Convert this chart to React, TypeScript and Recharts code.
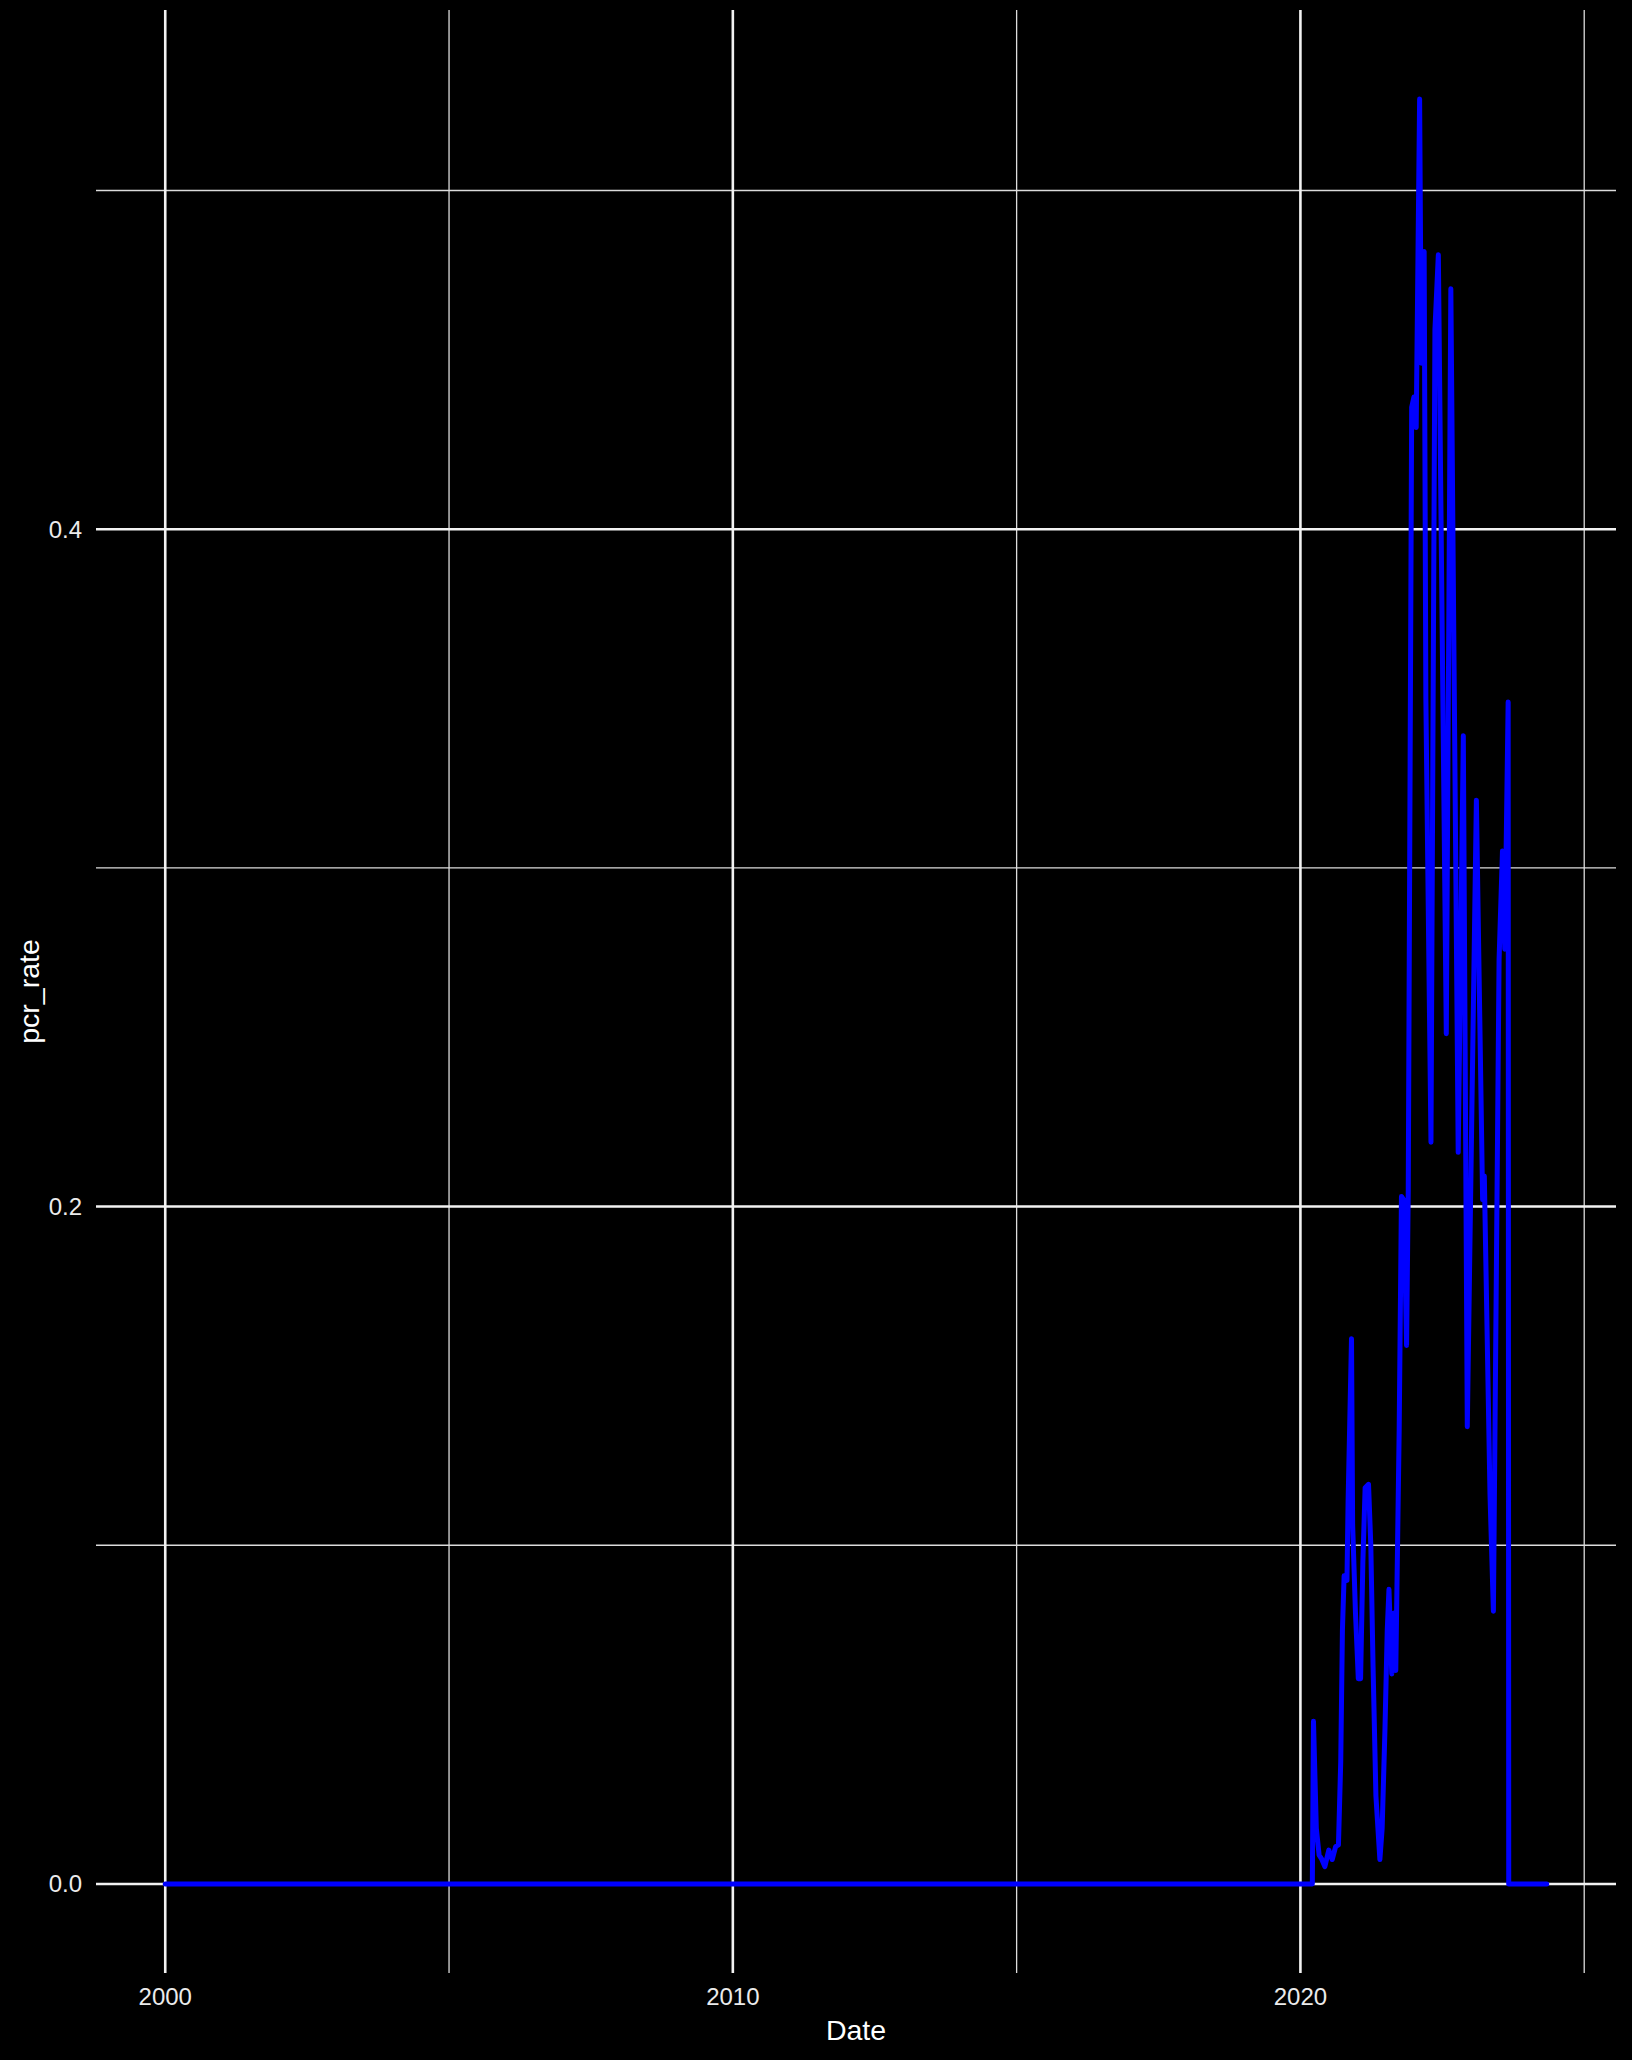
import React from 'react';
import { LineChart, Line, XAxis, YAxis, ReferenceLine } from 'recharts';

// decimal year of each observation
const years = [
  2000.0, 2020.21, 2020.23, 2020.28, 2020.33, 2020.37, 2020.43, 2020.5, 2020.56, 2020.62,
  2020.67, 2020.71, 2020.74, 2020.77, 2020.82, 2020.84, 2020.9, 2020.92, 2020.97, 2021.02,
  2021.06, 2021.1, 2021.14, 2021.2, 2021.24, 2021.28, 2021.33, 2021.4, 2021.44, 2021.49,
  2021.53, 2021.56, 2021.61, 2021.65, 2021.68, 2021.74, 2021.78, 2021.82, 2021.87, 2021.9,
  2021.96, 2022.0, 2022.04, 2022.1, 2022.13, 2022.18, 2022.21, 2022.3, 2022.37, 2022.43,
  2022.57, 2022.65, 2022.78, 2022.87, 2022.94, 2023.1, 2023.21, 2023.24, 2023.34, 2023.4,
  2023.5, 2023.56, 2023.6, 2023.66, 2023.67, 2024.34,
];

const pcrRate = [
  0, 0, 0.048, 0.0164, 0.0085, 0.0075, 0.0051, 0.01, 0.0072, 0.011,
  0.0115, 0.036, 0.075, 0.091, 0.0896, 0.113, 0.161, 0.106, 0.08, 0.0606,
  0.0606, 0.095, 0.117, 0.118, 0.1, 0.064, 0.026, 0.0072, 0.0164, 0.046,
  0.075, 0.087, 0.062, 0.08, 0.063, 0.134, 0.203, 0.202, 0.159, 0.205,
  0.436, 0.439, 0.43, 0.527, 0.449, 0.482, 0.35, 0.219, 0.459, 0.481,
  0.251, 0.471, 0.216, 0.339, 0.135, 0.32, 0.202, 0.209, 0.115, 0.0805,
  0.273, 0.305, 0.276, 0.349, 0, 0,
];

const xMajor = [2000, 2010, 2020];
const xMinor = [2005, 2015, 2025];
const yMajor = [0, 0.2, 0.4];
const yMinor = [0.1, 0.3, 0.5];

const data = years.map((d, i) => ({ date: d, pcr_rate: pcrRate[i] }));

const font = '"Liberation Sans", Arial, sans-serif';
const tickStyle = { fill: '#EBEBEB', fontSize: 24, fontFamily: font };

export default function App() {
  return (
    <div style={{ position: 'absolute', left: 0, top: 0, width: 1632, height: 2060, background: '#000' }}>
      <LineChart width={1632} height={2060} data={data} margin={{ top: 10, right: 16, left: 0, bottom: 0 }}>
        <XAxis
          dataKey="date"
          type="number"
          domain={[1998.78, 2025.56]}
          ticks={xMajor}
          axisLine={false}
          tickLine={false}
          tickSize={0}
          tickMargin={15}
          height={87}
          tick={tickStyle}
          label={{ value: 'Date', position: 'center', dy: 13, fill: '#FFFFFF', fontSize: 28.5, fontFamily: font }}
        />
        <YAxis
          type="number"
          domain={[-0.0263, 0.5533]}
          ticks={yMajor}
          tickFormatter={(v: number) => v.toFixed(1)}
          axisLine={false}
          tickLine={false}
          tickSize={0}
          tickMargin={14}
          width={96}
          tick={tickStyle}
          label={{ value: 'pcr_rate', angle: -90, position: 'center', dx: -19, fill: '#FFFFFF', fontSize: 28.5, fontFamily: font }}
        />
        {xMinor.map((v) => (
          <ReferenceLine key={'xm' + v} x={v} stroke="#DCDCDC" strokeWidth={1.3} />
        ))}
        {yMinor.map((v) => (
          <ReferenceLine key={'ym' + v} y={v} stroke="#DCDCDC" strokeWidth={1.3} />
        ))}
        {xMajor.map((v) => (
          <ReferenceLine key={'xM' + v} x={v} stroke="#F2F2F2" strokeWidth={2.6} />
        ))}
        {yMajor.map((v) => (
          <ReferenceLine key={'yM' + v} y={v} stroke="#F2F2F2" strokeWidth={2.6} />
        ))}
        <Line
          type="linear"
          dataKey="pcr_rate"
          stroke="#0000FF"
          strokeWidth={5}
          strokeLinejoin="round"
          strokeLinecap="round"
          dot={false}
          isAnimationActive={false}
        />
      </LineChart>
    </div>
  );
}
